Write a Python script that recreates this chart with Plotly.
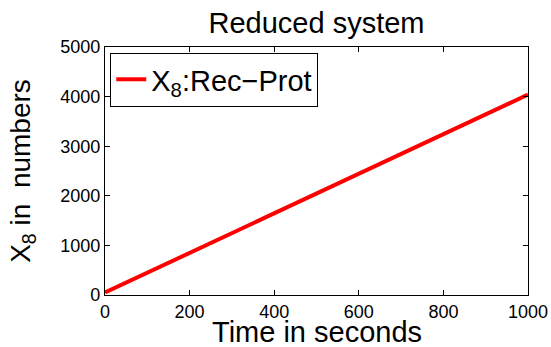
import plotly.graph_objects as go

time_s = [0, 1000]
x8_values = [50, 4040]
x_ticks = [0, 200, 400, 600, 800, 1000]
y_ticks = [0, 1000, 2000, 3000, 4000, 5000]

W, H = 551, 347
L, R, T, B = 105, 23, 47, 52

fig = go.Figure()
fig.add_trace(go.Scatter(
    x=time_s, y=x8_values, mode="lines",
    line=dict(color="#ff0000", width=4),
    name="X<sub>8</sub>:Rec\u2212Prot",
))

axis_common = dict(
    showgrid=False, zeroline=False, showline=True, linecolor="black", linewidth=1.2,
    mirror="ticks", ticks="inside", ticklen=5, tickcolor="black", tickwidth=1,
    automargin=False,
    tickfont=dict(family="Liberation Sans, Arial", size=18, color="black"),
)

fig.update_layout(
    width=W, height=H,
    margin=dict(l=L, r=R, t=T, b=B, autoexpand=False),
    paper_bgcolor="white", plot_bgcolor="white",
    font=dict(family="Liberation Sans, Arial", color="black"),
    title=dict(text="Reduced system", x=0.5, xanchor="center",
               xref="paper", yref="container",
               y=1 - 23 / H, yanchor="middle",
               font=dict(size=29, color="black")),
    xaxis=dict(range=[0, 1000], tickvals=x_ticks, **axis_common),
    yaxis=dict(range=[0, 5000], tickvals=y_ticks,
               title=dict(text="X<sub>8</sub> in  numbers", font=dict(size=28), standoff=21),
               **axis_common),
    annotations=[dict(text="Time in seconds", xref="paper", yref="paper",
                      x=0.5, y=0, xanchor="center", yanchor="middle",
                      yshift=-37, showarrow=False,
                      font=dict(size=29, color="black"))],
    showlegend=True,
    legend=dict(x=0.012, y=0.977, xanchor="left", yanchor="top",
                bgcolor="white", bordercolor="black", borderwidth=1.2,
                font=dict(size=29, color="black"), itemwidth=30,
                tracegroupgap=0),
)

fig.write_html("out.html",
               config={"displayModeBar": False},
               post_script="document.body.style.margin='0';document.body.style.padding='0';")
